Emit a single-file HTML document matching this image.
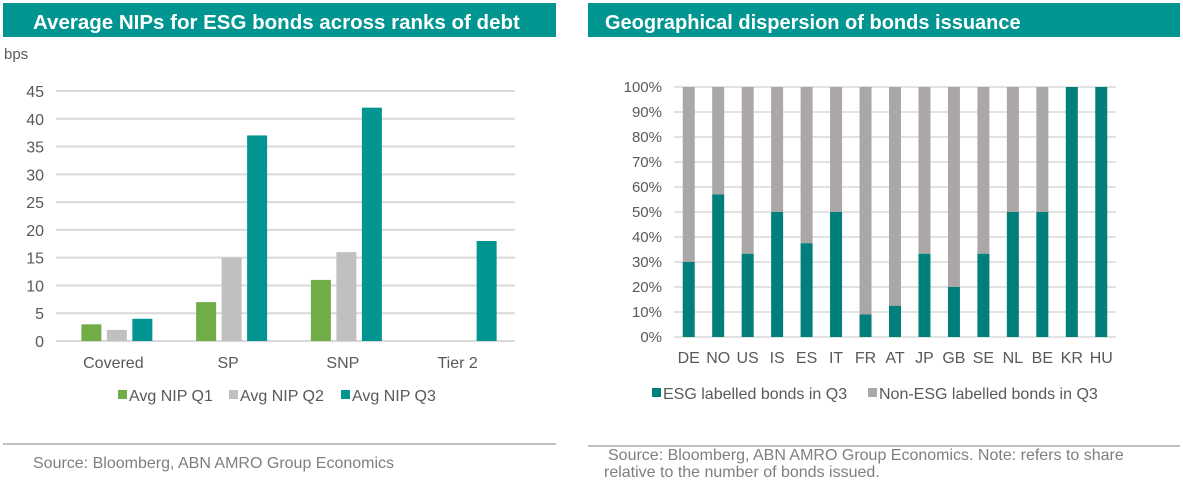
<!DOCTYPE html>
<html><head><meta charset="utf-8"><style>
body{margin:0;background:#fff;font-family:"Liberation Sans",sans-serif;}
svg text{font-family:"Liberation Sans",sans-serif;}
</style></head><body>
<svg width="1183" height="485" viewBox="0 0 1183 485" xmlns="http://www.w3.org/2000/svg">
<rect x="3" y="3" width="553" height="34" fill="#009590"/>
<text x="33" y="29" font-size="20.5" font-weight="bold" fill="#fff">Average NIPs for ESG bonds across ranks of debt</text>
<rect x="588" y="3" width="592" height="34" fill="#009590"/>
<text x="605" y="29" font-size="20" font-weight="bold" fill="#fff">Geographical dispersion of bonds issuance</text>
<text x="4" y="59" font-size="15" fill="#595959">bps</text>
<g id="left"></g><g id="right"></g>
<line x1="3" y1="444" x2="556" y2="444" stroke="#bfbfbf" stroke-width="2"/>
<text x="33" y="468" font-size="16" fill="#7f7f7f">Source: Bloomberg, ABN AMRO Group Economics</text>
<line x1="588" y1="446" x2="1180" y2="446" stroke="#bfbfbf" stroke-width="2"/>
<text x="608" y="460" font-size="16" fill="#7f7f7f">Source: Bloomberg, ABN AMRO Group Economics. Note: refers to share</text>
<text x="604" y="477" font-size="16" fill="#7f7f7f">relative to the number of bonds issued.</text>
</svg>
<script>
const ranks=["Covered","SP","SNP","Tier 2"];
const nipQ1=[3,7,11,0];
const nipQ2=[2,15,16,0];
const nipQ3=[4,37,42,18];
const leftTicks=[0,5,10,15,20,25,30,35,40,45];
const countries=["DE","NO","US","IS","ES","IT","FR","AT","JP","GB","SE","NL","BE","KR","HU"];
const esgShare=[30,57,33.3,50,37.5,50,9,12.5,33.3,20,33.3,50,50,100,100];
const rightTicks=[0,10,20,30,40,50,60,70,80,90,100];
const NS="http://www.w3.org/2000/svg";
function mk(p,t,a,txt){const e=document.createElementNS(NS,t);for(const k in a)e.setAttribute(k,a[k]);if(txt!==undefined)e.textContent=txt;p.appendChild(e);return e;}
// left
const L=document.getElementById('left');
const lx0=56,lx1=515,ly0=341,ly1=91;
const ly=v=>ly0-(v/45)*(ly0-ly1);
const band=(lx1-lx0)/ranks.length;
leftTicks.forEach(t=>{
 const g=mk(L,'line',{x1:lx0,x2:lx1,y1:ly(t),y2:ly(t),stroke:'#d9d9d9','stroke-width':2});
 
 
 const tx=mk(L,'text',{x:44,y:ly(t)+6,'font-size':16,fill:'#595959','text-anchor':'end'},t);
 
 
});
const ser=[[nipQ1,'#70ad47','q1'],[nipQ2,'#c0c0c0','q2'],[nipQ3,'#009590','q3']];
ranks.forEach((r,i)=>{
 const c=lx0+band*(i+0.5);
 ser.forEach((s,j)=>{
  const v=s[0][i]; if(!v)return;
  const b=mk(L,'rect',{x:c-32+j*25.5,y:ly(v),width:20,height:ly0-ly(v),fill:s[1]});
  
  
 });
 const tx=mk(L,'text',{x:c,y:368,'font-size':16,fill:'#595959','text-anchor':'middle'},r);
 
 
});
[['Avg NIP Q1','#70ad47',118],['Avg NIP Q2','#c0c0c0',229],['Avg NIP Q3','#009590',341]].forEach(l=>{
 const r=mk(L,'rect',{x:l[2],y:390,width:9,height:9,fill:l[1]});
 
 
 const t=mk(L,'text',{x:l[2]+11,y:401,'font-size':16,fill:'#595959'},l[0]);
 
 
});
// right
const R=document.getElementById('right');
const rx0=674,rx1=1116,ry0=337,ry1=87;
const ry=v=>ry0-(v/100)*(ry0-ry1);
const rb=(rx1-rx0)/countries.length;
rightTicks.forEach(t=>{
 const g=mk(R,'line',{x1:rx0,x2:rx1,y1:ry(t),y2:ry(t),stroke:'#d9d9d9','stroke-width':1.5});
 
 
 const tx=mk(R,'text',{x:662,y:ry(t)+5,'font-size':15,fill:'#595959','text-anchor':'end'},t+'%');
 
 
});
countries.forEach((c,i)=>{
 const cx=rx0+rb*(i+0.5),v=esgShare[i];
 const g=mk(R,'rect',{x:cx-6,y:ry(100),width:12,height:ry(v)-ry(100),fill:'#aba7a7'});
 
 
 const e=mk(R,'rect',{x:cx-6,y:ry(v),width:12,height:ry0-ry(v),fill:'#007f7b'});
 
 
 const tx=mk(R,'text',{x:cx,y:363,'font-size':16,fill:'#595959','text-anchor':'middle'},c);
 
 
});
[['ESG labelled bonds in Q3','#007f7b',652],['Non-ESG labelled bonds in Q3','#aba7a7',868]].forEach(l=>{
 const r=mk(R,'rect',{x:l[2],y:388,width:9,height:9,fill:l[1]});
 
 
 const t=mk(R,'text',{x:l[2]+11,y:399,'font-size':16,fill:'#595959'},l[0]);
 
 
});
</script>
</body></html>
